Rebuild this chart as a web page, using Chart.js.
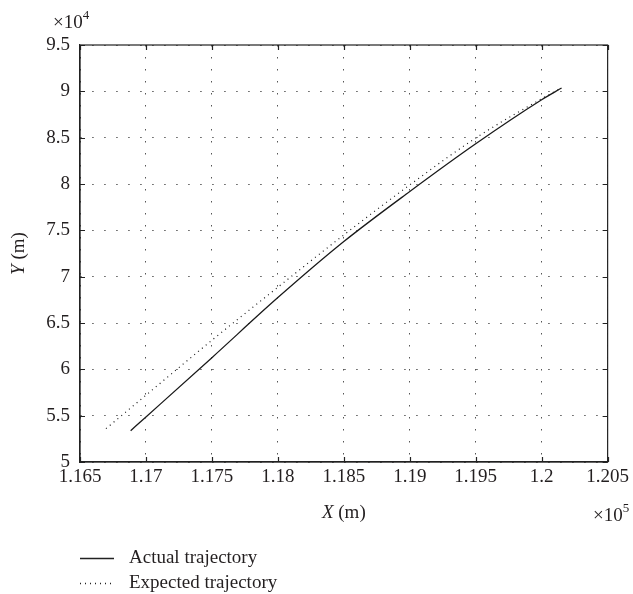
<!DOCTYPE html>
<html>
<head>
<meta charset="utf-8">
<script src="https://cdn.jsdelivr.net/npm/chart.js@4"></script>
<style>
  body { margin: 0; background: #fff; }
  canvas { display: block; }
</style>
</head>
<body>
<canvas id="trajChart" width="633" height="594"></canvas>
<script>
// values (X, Y in metres)
const actualX = [116884, 117000, 117500, 118000, 118500, 119000, 119500, 120000, 120151];
const actualY = [53380, 54860, 61260, 67740, 73790, 79190, 84340, 89090, 90360];
const expectedX = [116697, 117000, 117500, 118000, 118500, 119000, 119500, 120000, 120151];
const expectedY = [53600, 57210, 63140, 68860, 74500, 79900, 84960, 89200, 90360];
const seriesNames = ["Actual trajectory", "Expected trajectory"];

const textColor = "#231f20";
const serif = "'Liberation Serif', 'DejaVu Serif', serif";

function toPoints(xs, ys) {
  return xs.map((x, i) => ({ x: x, y: ys[i] }));
}

// frame, inward ticks, axis titles, exponents and legend
const decorations = {
  id: "decorations",
  afterDraw(chart) {
    const ctx = chart.ctx;
    const area = chart.chartArea;
    const xs = chart.scales.x;
    const ys = chart.scales.y;
    ctx.save();

    ctx.strokeStyle = "#222";
    ctx.lineWidth = 1.2;
    ctx.strokeRect(area.left, area.top, area.right - area.left, area.bottom - area.top);

    ctx.beginPath();
    xs.ticks.forEach((t) => {
      const px = Math.round(xs.getPixelForValue(t.value)) + 0.5;
      ctx.moveTo(px, area.bottom);
      ctx.lineTo(px, area.bottom - 5);
      ctx.moveTo(px, area.top);
      ctx.lineTo(px, area.top + 5);
    });
    ys.ticks.forEach((t) => {
      const py = Math.round(ys.getPixelForValue(t.value)) + 0.5;
      ctx.moveTo(area.left, py);
      ctx.lineTo(area.left + 5, py);
      ctx.moveTo(area.right, py);
      ctx.lineTo(area.right - 5, py);
    });
    ctx.stroke();

    ctx.fillStyle = textColor;
    ctx.textBaseline = "alphabetic";
    ctx.textAlign = "left";

    // X (m)
    const italic = "italic 19px " + serif;
    const normal = "19px " + serif;
    ctx.font = italic;
    const wX = ctx.measureText("X").width;
    ctx.font = normal;
    const wRest = ctx.measureText(" (m)").width;
    const cx = (area.left + area.right) / 2;
    let x0 = cx - (wX + wRest) / 2;
    ctx.font = italic;
    ctx.fillText("X", x0, 518);
    ctx.font = normal;
    ctx.fillText(" (m)", x0 + wX, 518);

    // Y (m), rotated
    ctx.save();
    ctx.translate(24, (area.top + area.bottom) / 2);
    ctx.rotate(-Math.PI / 2);
    ctx.font = italic;
    const wY = ctx.measureText("Y").width;
    x0 = -(wY + wRest) / 2;
    ctx.fillText("Y", x0, 0);
    ctx.font = normal;
    ctx.fillText(" (m)", x0 + wY, 0);
    ctx.restore();

    // exponents
    ctx.font = normal;
    const w10 = ctx.measureText("\u00d710").width;
    ctx.fillText("\u00d710", 53, 28);
    ctx.fillText("\u00d710", 593, 521);
    ctx.font = "13px " + serif;
    ctx.fillText("4", 53 + w10, 19);
    ctx.fillText("5", 593 + w10, 512);

    // legend
    ctx.strokeStyle = "#222";
    ctx.lineWidth = 1.3;
    ctx.beginPath();
    ctx.moveTo(80, 558.5);
    ctx.lineTo(114, 558.5);
    ctx.stroke();
    ctx.setLineDash([1, 4]);
    ctx.beginPath();
    ctx.moveTo(80, 583.5);
    ctx.lineTo(114, 583.5);
    ctx.stroke();
    ctx.setLineDash([]);
    ctx.font = normal;
    ctx.fillText(seriesNames[0], 129, 563);
    ctx.fillText(seriesNames[1], 129, 588);

    ctx.restore();
  },
};

const ctx = document.getElementById("trajChart").getContext("2d");
new Chart(ctx, {
  type: "scatter",
  data: {
    datasets: [
      {
        label: seriesNames[0],
        data: toPoints(actualX, actualY),
        showLine: true,
        borderColor: "#1a1a1a",
        borderWidth: 1.3,
        pointRadius: 0,
        cubicInterpolationMode: "monotone",
      },
      {
        label: seriesNames[1],
        data: toPoints(expectedX, expectedY),
        showLine: true,
        borderColor: "#1a1a1a",
        borderWidth: 1.2,
        borderDash: [1, 4],
        pointRadius: 0,
        cubicInterpolationMode: "monotone",
      },
    ],
  },
  options: {
    responsive: false,
    animation: false,
    layout: { padding: { top: 45, right: 24, left: 0, bottom: 0 } },
    plugins: {
      legend: { display: false },
      tooltip: { enabled: false },
    },
    scales: {
      x: {
        type: "linear",
        min: 116500,
        max: 120500,
        afterFit(scale) {
          scale.height = 132;
        },
        ticks: {
          stepSize: 500,
          padding: 4,
          color: textColor,
          font: { family: serif, size: 19 },
          maxRotation: 0,
          callback: (v) => String(Number((v / 1e5).toFixed(3))),
        },
        grid: { color: "#555", lineWidth: 1, drawTicks: false },
        border: { display: true, color: "#222", width: 1.2, dash: [1.5, 10.5] },
      },
      y: {
        type: "linear",
        min: 50000,
        max: 95000,
        afterFit(scale) {
          scale.width = 80;
        },
        ticks: {
          stepSize: 5000,
          padding: 10,
          color: textColor,
          font: { family: serif, size: 19 },
          callback: (v) => String(Number((v / 1e4).toFixed(2))),
        },
        grid: { color: "#555", lineWidth: 1, drawTicks: false },
        border: { display: true, color: "#222", width: 1.2, dash: [1.5, 10.5] },
      },
    },
  },
  plugins: [decorations],
});
</script>
</body>
</html>
